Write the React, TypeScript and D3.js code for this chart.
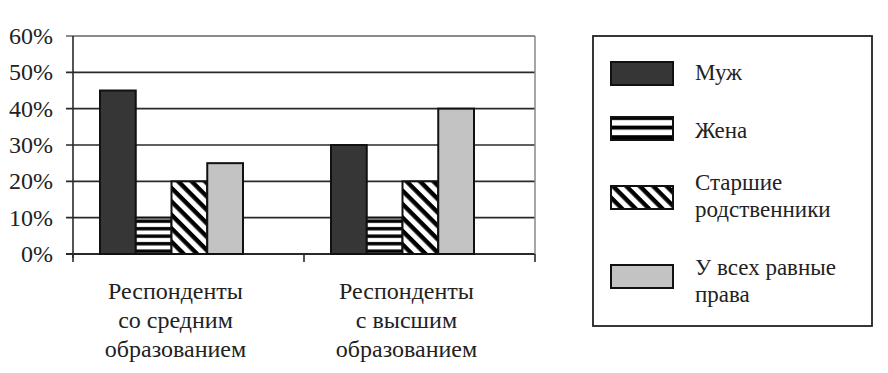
import React from 'react';
import * as d3 from 'd3';

const categories = ['cat1', 'cat2'];
const categoryLines = [
  ['Респонденты', 'со средним', 'образованием'],
  ['Респонденты', 'с высшим', 'образованием'],
];
const seriesNames = ['Муж', 'Жена', 'Старшие родственники', 'У всех равные права'];
const legendLines = [['Муж'], ['Жена'], ['Старшие', 'родственники'], ['У всех равные', 'права']];
const muzh = [45, 30];
const zhena = [10, 10];
const starshie = [20, 20];
const ravnye = [25, 40];
const yTicks = [0, 10, 20, 30, 40, 50, 60];

const seriesValues = [muzh, zhena, starshie, ravnye];
const fills = ['#363636', 'url(#hstripe)', 'url(#dstripe)', '#c3c3c3'];
const legendFills = ['#363636', 'url(#hstripeL)', 'url(#dstripe)', '#c3c3c3'];

const W = 888;
const H = 373;
const left = 73;
const right = 535;
const top = 36;
const bottom = 254;
const fam = 'Liberation Serif';

export default function App() {
  const ref = React.useRef<SVGSVGElement>(null);
  React.useLayoutEffect(() => {
    document.body.style.margin = '0';
    if (ref.current) {
      d3.select(ref.current)
        .selectAll('text')
        .attr('font-family', fam)
        .style('font-family', "'Liberation Serif', 'Times New Roman', Tinos, serif", 'important');
    }
  }, []);
  const y = d3.scaleLinear().domain([0, 60]).range([bottom, top]);
  const x0 = d3.scaleBand<string>().domain(categories).range([left, right]);
  const x1 = d3.scaleBand<string>().domain(seriesNames).range([27, 170]);
  const tickXs = [left, ...categories.map((c) => (x0(c) as number) + x0.bandwidth())];

  const legendX = 611;
  const legendSwW = 62;
  const legendSwH = 23;
  const legendSwY = [62, 117, 186, 265];
  const legendTextY = [[80], [138], [190, 217], [275, 302]];

  return (
    <svg ref={ref} width={W} height={H} style={{ display: 'block' }}>
      <defs>
        <pattern id="hstripe" patternUnits="userSpaceOnUse" width={10} height={7.5}>
          <rect width={10} height={7.5} fill="#fff" />
          <rect y={2} width={10} height={3.4} fill="#000" />
        </pattern>
        <pattern
          id="hstripeL"
          patternUnits="userSpaceOnUse"
          width={10}
          height={9.6}
          patternTransform={`translate(0,${legendSwY[1] - 1})`}
        >
          <rect width={10} height={9.6} fill="#fff" />
          <rect y={0} width={10} height={4} fill="#000" />
        </pattern>
        <pattern id="dstripe" patternUnits="userSpaceOnUse" width={10} height={9.5} patternTransform="rotate(45)">
          <rect width={10} height={9.5} fill="#fff" />
          <rect y={0} width={10} height={4.4} fill="#000" />
        </pattern>
      </defs>
      <rect width={W} height={H} fill="#fff" />

      {yTicks.map((t) => (
        <line
          key={'g' + t}
          x1={left - 7}
          x2={right}
          y1={y(t)}
          y2={y(t)}
          stroke={t === 60 ? '#666' : '#2a2a2a'}
          strokeWidth={t === 0 ? 2 : 1.6}
        />
      ))}
      <line x1={right} x2={right} y1={top} y2={bottom} stroke="#888" strokeWidth={1.5} />
      <line x1={left} x2={left} y1={top} y2={bottom + 4} stroke="#2a2a2a" strokeWidth={1.6} />
      {tickXs.map((tx, i) => (
        <line key={'xt' + i} x1={tx} x2={tx} y1={bottom} y2={bottom + 8} stroke="#2a2a2a" strokeWidth={1.6} />
      ))}
      {yTicks.map((t) => (
        <text key={'yl' + t} x={53} y={y(t) + 8} textAnchor="end" fontSize={24} fontFamily={fam} fill="#222">
          {t}%
        </text>
      ))}

      {categories.map((c, ci) =>
        seriesNames.map((s, si) => {
          const bx = (x0(c) as number) + (x1(s) as number);
          const v = seriesValues[si][ci];
          return (
            <rect
              key={c + s}
              x={bx}
              y={y(v)}
              width={x1.bandwidth()}
              height={bottom - y(v)}
              fill={fills[si]}
              stroke="#111"
              strokeWidth={2}
            />
          );
        })
      )}

      {categories.map((c, ci) => {
        const cx = (x0(c) as number) + x0.bandwidth() / 2 - 13;
        return categoryLines[ci].map((ln, li) => (
          <text key={c + li} x={cx} y={299 + li * 29} textAnchor="middle" fontSize={24} fontFamily={fam} fill="#222">
            {ln}
          </text>
        ));
      })}

      <rect x={593} y={36} width={279} height={290} fill="#fff" stroke="#222" strokeWidth={1.8} />
      {seriesNames.map((s, i) => (
        <g key={'lg' + s}>
          <rect
            x={legendX}
            y={legendSwY[i]}
            width={legendSwW}
            height={legendSwH}
            fill={legendFills[i]}
            stroke="#111"
            strokeWidth={2}
          />
          {legendLines[i].map((ln, li) => (
            <text key={li} x={695} y={legendTextY[i][li]} fontSize={23} fontFamily={fam} fill="#222">
              {ln}
            </text>
          ))}
        </g>
      ))}
    </svg>
  );
}
